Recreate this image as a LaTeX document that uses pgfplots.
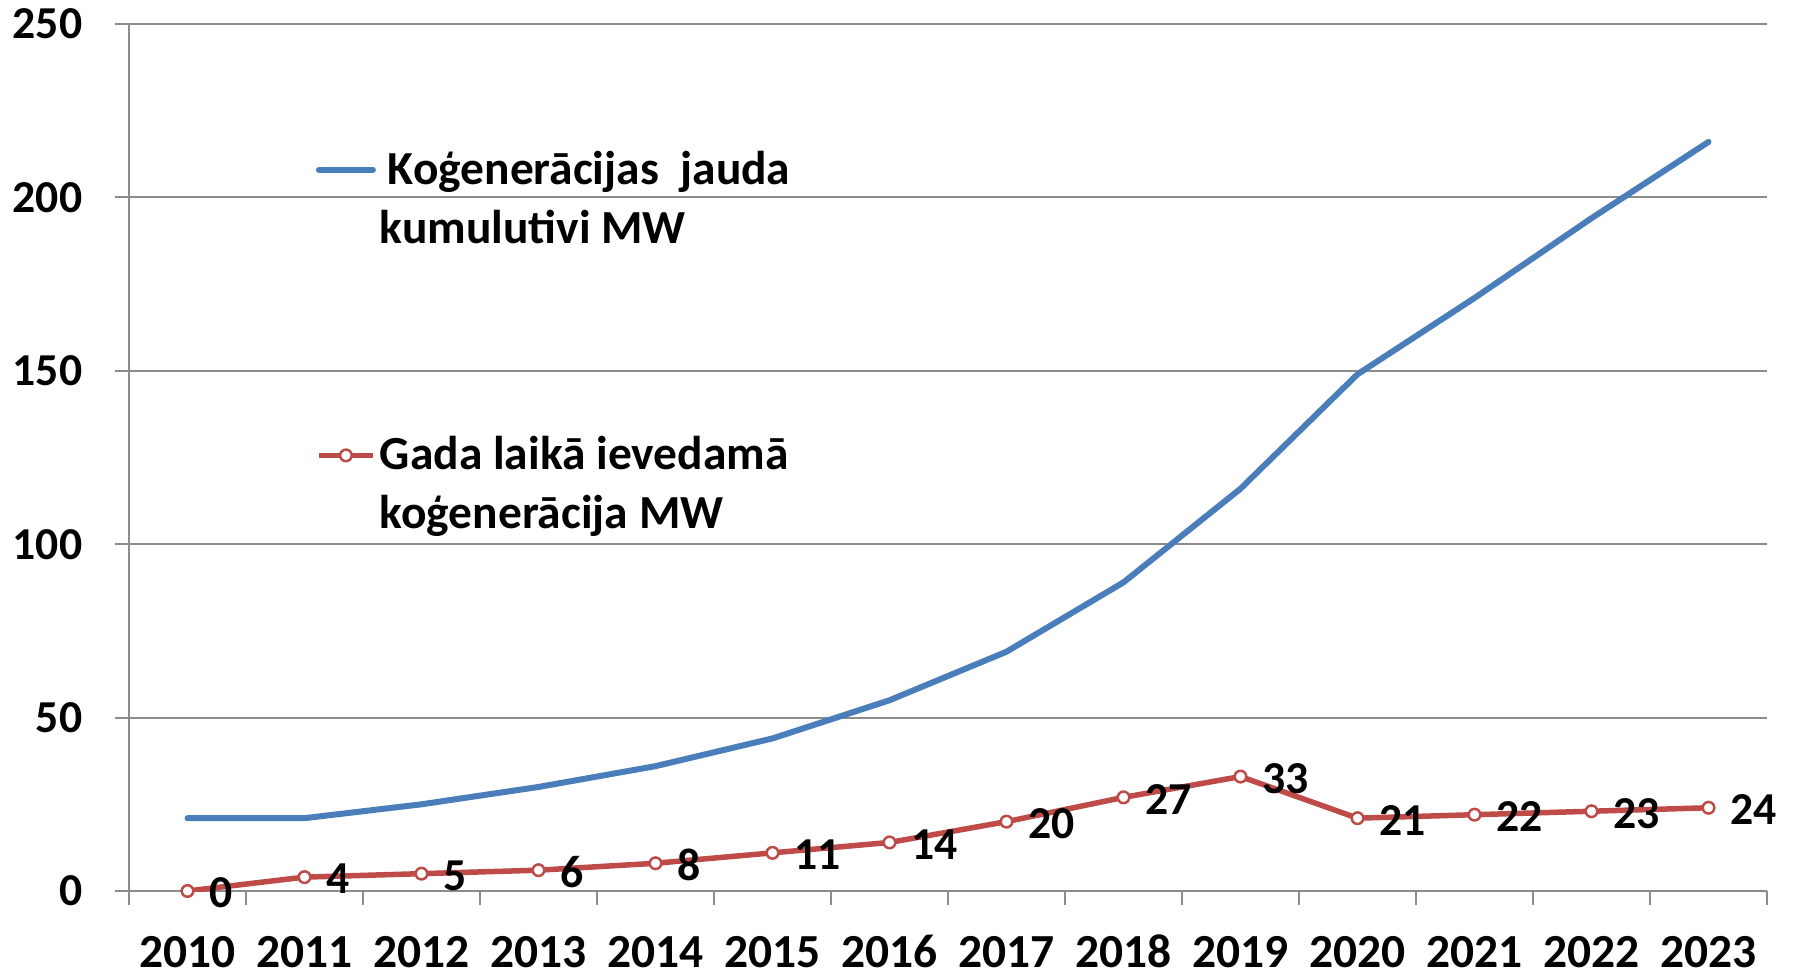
\documentclass[border=0pt]{standalone}
\usepackage{fontspec}
\setmainfont{Carlito}
\usepackage{pgfplots}
\pgfplotsset{compat=1.18}
\usetikzlibrary{calc}
\definecolor{kumblue}{HTML}{4A7EBB}
\definecolor{gadared}{HTML}{BE4B48}
\definecolor{gridgray}{HTML}{8C8C8C}

\newcommand{\lbl}{\fontsize{13}{16}\selectfont\bfseries}
\newcommand{\lblbig}{\fontsize{13.5}{16.8}\selectfont\bfseries}

\pgfplotsset{
  blueleg/.style={legend image code/.code={\draw[##1] (0mm,2.6mm) -- (5.4mm,2.6mm);}},
  redleg/.style={legend image code/.code={\draw[##1, mark repeat=2, mark phase=2]
    plot coordinates {(0mm,2.6mm) (2.7mm,2.6mm) (5.4mm,2.6mm)};}},
}

\begin{document}
\begin{tikzpicture}
\begin{axis}[
  scale only axis,
  width=163.8mm, height=86.7mm,
  xmin=-0.5, xmax=13.5, ymin=0, ymax=250,
  xtick={-0.5,0.5,...,13.5},
  x tick label as interval,
  xticklabels={2010,2011,2012,2013,2014,2015,2016,2017,2018,2019,2020,2021,2022,2023},
  ytick={0,50,...,250},
  axis x line*=bottom, axis y line*=left,
  axis line style={gridgray, line width=0.2mm},
  ymajorgrids, major grid style={gridgray, line width=0.2mm},
  tick align=outside, major tick length=1.4mm,
  tick style={gridgray, line width=0.2mm},
  /pgf/number format/assume math mode=true,
  tick label style={font=\lbl, text=black},
  yticklabel style={inner sep=0pt, xshift=-3.2mm},
  xticklabel style={font=\lblbig, inner sep=0pt, yshift=-3.3mm,
    text height=2.9mm, text depth=0pt},
  legend cell align=left,
  legend style={draw=none, fill=none, inner sep=0pt,
    at={(0.1137,0.8636)}, anchor=north west,
    font=\lblbig, row sep=18mm,
    nodes={align=left, inner sep=0pt, inner xsep=0.4mm}},
]
\addplot[kumblue, line width=0.6mm, line join=round, line cap=round, blueleg]
  coordinates {(0,21) (1,21) (2,25) (3,30) (4,36) (5,44) (6,55) (7,69)
    (8,89) (9,116) (10,149) (11,171) (12,194) (13,216)};
\addlegendentry{\strut\hspace{0.8mm}Koģenerācijas\ \ jauda\\\strut kumulutivi MW}
\addplot[gadared, line width=0.55mm, line join=round,
  mark=*, mark size=0.58mm,
  mark options={fill=white, draw=gadared, line width=0.25mm},
  nodes near coords,
  every node near coord/.append style={anchor=west, inner sep=0pt,
    xshift=2.1mm, yshift=-0.2mm, font=\lbl, text=black},
  redleg]
  coordinates {(0,0) (1,4) (2,5) (3,6) (4,8) (5,11) (6,14) (7,20)
    (8,27) (9,33) (10,21) (11,22) (12,23) (13,24)};
\addlegendentry{\strut Gada laikā ievedamā\\\strut koģenerācija MW}
\coordinate (O) at (rel axis cs:0,0);
\end{axis}
\pgfresetboundingbox
\path ($(O)+(-12.9mm,-8.2mm)$) rectangle ($(O)+(166.7mm,89.1mm)$);
\end{tikzpicture}
\end{document}
